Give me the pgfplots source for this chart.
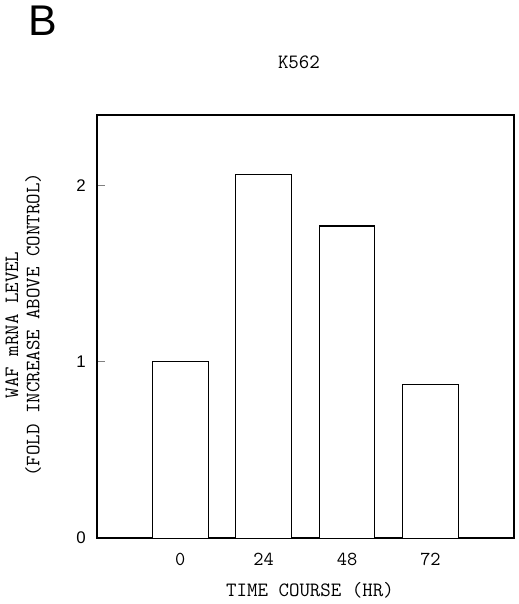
\documentclass[border=0pt]{standalone}
\usepackage{pgfplots}
\pgfplotsset{compat=1.18}
\usepackage{fontspec}
\newfontfamily\arial{Liberation Sans}
\begin{document}
\begin{tikzpicture}
\begin{axis}[
  name=ax, at={(0,0)}, anchor=south west,
  width=251.4bp, height=255.2bp, scale only axis,
  xmin=-24, xmax=96, ymin=0, ymax=2.4,
  xtick={0,24,48,72}, ytick={0,1,2},
  xtick style={draw=none},
  ytick pos=left, ytick align=inside,
  major tick length=4.8bp,
  ytick style={line width=0.8bp},
  /pgf/number format/assume math mode=true,
  xticklabel style={font=\fontsize{12}{13}\ttfamily, yshift=-1bp},
  yticklabel style={font=\fontsize{10.2}{12}\arial, xshift=-3.2bp},
  axis line style={line width=0.9bp},
  clip=false,
  title={K562},
  title style={at={(axis description cs:0.4845,1.101)}, anchor=center, font=\fontsize{12.3}{14}\ttfamily},
  xlabel={TIME COURSE (HR)},
  xlabel style={at={(axis description cs:0.511,-0.124)}, anchor=center, font=\fontsize{12.3}{14}\ttfamily},
  ylabel={WAF mRNA LEVEL\\(FOLD INCREASE ABOVE CONTROL)},
  ylabel style={at={(axis description cs:-0.1766,0.504)}, anchor=center, align=center, font=\fontsize{12.3}{12.8}\ttfamily},
  ybar, bar width=16,
]
\addplot[draw=black, fill=white, line width=0.7bp] coordinates {(0,1.00) (24,2.06) (48,1.77) (72,0.87)};
\node[font=\fontsize{26}{30}\arial, anchor=center] at (axis description cs:-0.129,1.2234) {B};
\end{axis}
\path ([xshift=-57.6bp,yshift=-38.8bp]ax.south west) rectangle ([xshift=3bp,yshift=68.4bp]ax.north east);
\end{tikzpicture}
\end{document}
